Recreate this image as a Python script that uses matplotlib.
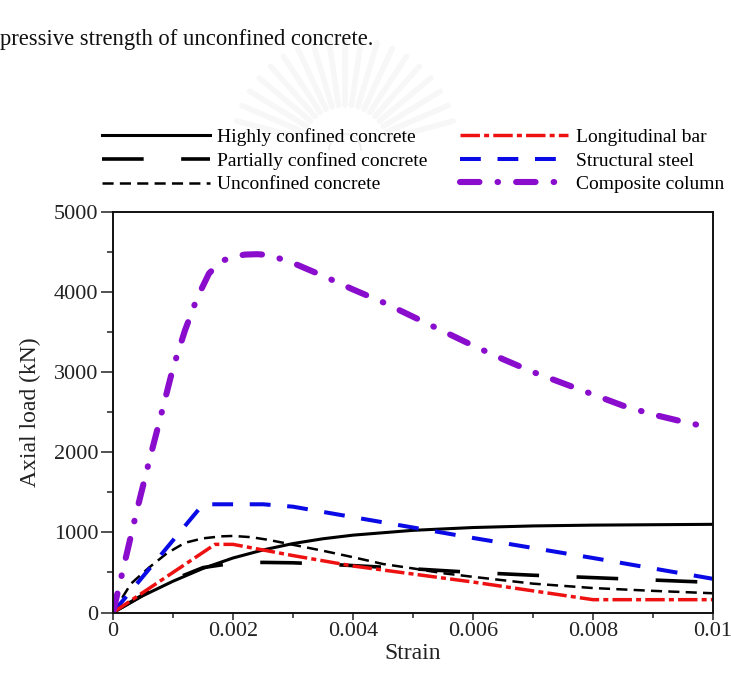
import numpy as np
import matplotlib
matplotlib.use('Agg')
import matplotlib.pyplot as plt
from matplotlib.ticker import MultipleLocator, FixedLocator, FixedFormatter

plt.rcParams['font.family'] = ['Liberation Serif', 'DejaVu Serif']
plt.rcParams['lines.scale_dashes'] = False

##### data (strain, axial load in kN)

highly_strain = [0, 0.0005, 0.001, 0.0015, 0.002, 0.0025, 0.003, 0.0035, 0.004, 0.005, 0.006, 0.007, 0.008, 0.009, 0.01]
highly_load = [0, 210, 390, 550, 680, 780, 860, 920, 965, 1025, 1060, 1080, 1090, 1095, 1100]

partial_strain = [0, 0.0005, 0.001, 0.0015, 0.002, 0.0025, 0.003, 0.0035, 0.004, 0.005, 0.006, 0.007, 0.008, 0.009, 0.01]
partial_load = [0, 220, 410, 560, 615, 625, 620, 605, 585, 545, 500, 465, 435, 405, 375]

unconf_strain = [0, 0.0003, 0.0006, 0.0009, 0.0012, 0.0015, 0.0018, 0.002, 0.0023, 0.0026, 0.003, 0.0035,
                 0.004, 0.0045, 0.005, 0.0055, 0.006, 0.007, 0.008, 0.009, 0.01]
unconf_load = [0, 360, 560, 740, 870, 925, 950, 955, 940, 905, 845, 770, 690, 605, 550, 490, 445, 360, 305, 270, 240]

bar_strain = [0, 0.0017, 0.002, 0.003, 0.004, 0.005, 0.006, 0.007, 0.008, 0.01]
bar_load = [0, 850, 850, 710, 580, 480, 380, 270, 160, 160]

steel_strain = [0, 0.0015, 0.0025, 0.003, 0.004, 0.006, 0.008, 0.01]
steel_load = [0, 1350, 1350, 1320, 1190, 930, 680, 420]

comp_strain = [0, 0.0002, 0.0004, 0.0006, 0.0008, 0.001, 0.0012, 0.0014, 0.0016, 0.0018, 0.002, 0.0022,
               0.0024, 0.0026, 0.003, 0.0035, 0.004, 0.0045, 0.005, 0.0055, 0.006, 0.0065, 0.007, 0.0075,
               0.008, 0.0085, 0.009, 0.0095, 0.01]
comp_load = [0, 640, 1280, 1880, 2460, 3050, 3520, 3920, 4230, 4380, 4440, 4465, 4470, 4460, 4360, 4200,
             4030, 3870, 3690, 3510, 3330, 3160, 3000, 2860, 2720, 2580, 2470, 2380, 2300]

x_ticks = [0, 0.002, 0.004, 0.006, 0.008, 0.01]
x_ticklabels = ['0', '0.002', '0.004', '0.006', '0.008', '0.01']
y_ticks = [0, 1000, 2000, 3000, 4000, 5000]
y_ticklabels = ['0', '1000', '2000', '3000', '4000', '5000']

##### figure

W, H = 731, 681
fig = plt.figure(figsize=(W/100, H/100), dpi=100)

# page text cut off at the top of the scan
fig.text(0, 1 - 40/H, 'pressive strength of unconfined concrete.', fontsize=16.3,
         va='center', ha='left', color='#111111')

# very faint watermark emblem behind everything
wm = fig.add_axes([0, 0, 1, 1], zorder=-5)
wm.set_xlim(0, W)
wm.set_ylim(H, 0)
wm.axis('off')
cx, cy = 345, 150
for ang in np.linspace(np.radians(15), np.radians(165), 19):
    wm.plot([cx + 45*np.cos(ang), cx + 112*np.cos(ang)],
            [cy - 45*np.sin(ang), cy - 112*np.sin(ang)], color='#f7f7f7', lw=4, solid_capstyle='round')
t = np.linspace(0, np.pi, 60)
wm.plot(cx + 16*np.cos(t), cy - 16*np.sin(t), color='#efefef', lw=1.2)

ax = fig.add_axes([113/W, 1 - 612.5/H, 600/W, 400.8/H])

l1, = ax.plot(highly_strain, highly_load, color='black', lw=2.2, label='Highly confined concrete')
l2, = ax.plot(partial_strain, partial_load, color='black', lw=2.6, dashes=(30, 27),
              label='Partially confined concrete')
l3, = ax.plot(unconf_strain, unconf_load, color='black', lw=1.8, dashes=(8, 4.5), label='Unconfined concrete')
l5, = ax.plot(steel_strain, steel_load, color='#0a0ae6', lw=2.9, dashes=(15, 12), label='Structural steel')
l4, = ax.plot(bar_strain, bar_load, color='#ee1111', lw=2.5, dashes=(14, 3, 3.6, 3), label='Longitudinal bar')
l6, = ax.plot(comp_strain, comp_load, color='#8a0ccc', lw=4.4, dashes=(14, 13, 0.4, 13),
              dash_capstyle='round', label='Composite column')

ax.set_xlim(0, 0.01)
ax.set_ylim(0, 5000)
ax.xaxis.set_major_locator(FixedLocator(x_ticks))
ax.xaxis.set_major_formatter(FixedFormatter(x_ticklabels))
ax.xaxis.set_minor_locator(MultipleLocator(0.001))
ax.yaxis.set_major_locator(FixedLocator(y_ticks))
ax.yaxis.set_major_formatter(FixedFormatter(y_ticklabels))
ax.yaxis.set_minor_locator(MultipleLocator(500))

ax.tick_params(axis='both', which='both', direction='out', width=1.1, labelsize=16, colors='#222222')
ax.tick_params(axis='x', which='major', length=5, pad=2)
ax.tick_params(axis='x', which='minor', length=3.6)
ax.tick_params(axis='y', which='major', length=8.6, pad=2)
ax.tick_params(axis='y', which='minor', length=4.3)
for sp in ax.spines.values():
    sp.set_linewidth(1.4)
    sp.set_color('#111111')

ax.set_xlabel('Strain', fontsize=17, labelpad=1, color='#222222')
ax.set_ylabel('Axial load (kN)', fontsize=17, labelpad=9, color='#222222')

fig.legend(handles=[l1, l2, l3, l4, l5, l6], ncol=2, loc='upper left',
           bbox_to_anchor=(101.7/W, 1 - 128/H), frameon=False, fontsize=14,
           handlelength=5.55, handletextpad=0.4, columnspacing=1.65, labelspacing=0.31,
           borderpad=0, borderaxespad=0)

plt.savefig('out.png', dpi=100)
